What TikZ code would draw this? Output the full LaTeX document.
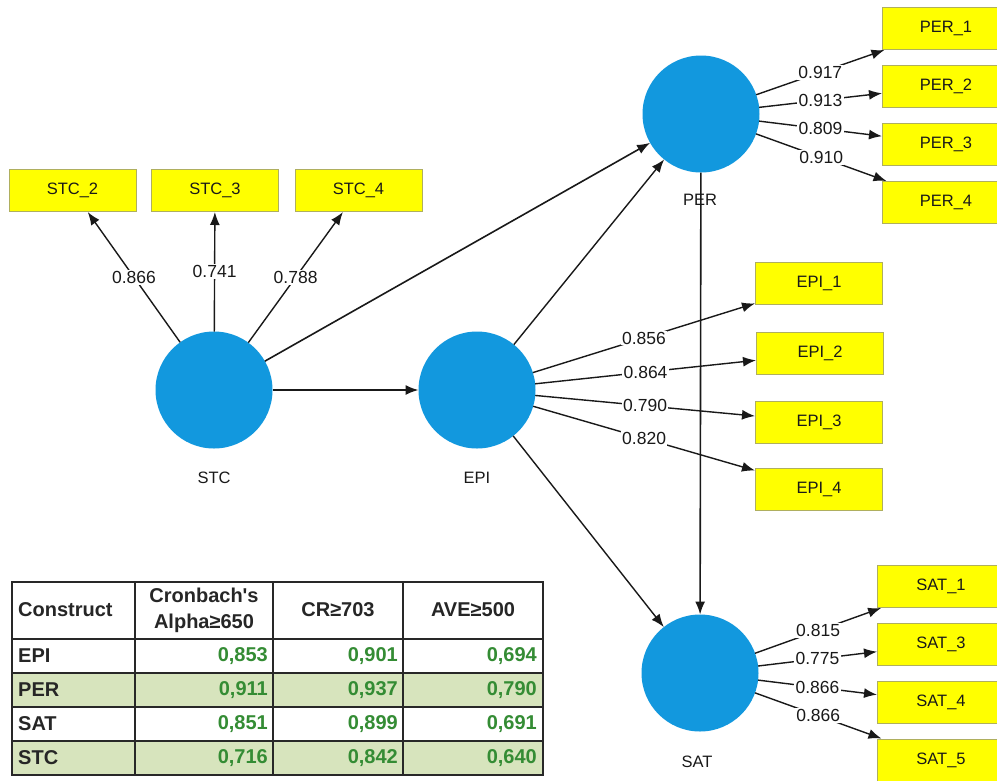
\documentclass[tikz,border=0pt]{standalone}
\usepackage{fontspec}
\setmainfont{Liberation Sans}
\usetikzlibrary{arrows.meta}
\definecolor{lvblue}{RGB}{18,152,222}
\definecolor{indyel}{RGB}{255,255,0}
\definecolor{indedge}{RGB}{175,175,95}
\definecolor{rowgreen}{RGB}{215,228,189}
\definecolor{numgreen}{RGB}{52,140,52}
\definecolor{txt}{RGB}{25,25,25}
\definecolor{tline}{RGB}{40,40,40}
\begin{document}
\begin{tikzpicture}[x=1pt,y=-1pt,
  lv/.style={circle,fill=lvblue,minimum size=117pt,inner sep=0pt,outer sep=0pt},
  ind/.style={rectangle,fill=indyel,draw=indedge,line width=1pt,minimum width=127pt,minimum height=42pt,inner sep=0pt,font=\fontsize{16.5}{18}\selectfont,text=txt},
  lvlab/.style={font=\fontsize{16.5}{18}\selectfont,text=txt},
  arr/.style={draw=black!90,line width=1.4pt,-{Latex[length=13pt,width=10pt]}},
  sarr/.style={arr,line width=1.6pt},
  lbl/.style={fill=white,inner sep=1.2pt,font=\fontsize{17.5}{19}\selectfont,text=txt},
  tgrid/.style={draw=tline,line width=1.5pt},
  thead/.style={font=\fontsize{20}{26}\selectfont\bfseries,text=black!85,inner sep=0pt},
  tnum/.style={font=\fontsize{20}{24}\selectfont\bfseries,text=numgreen,inner sep=0pt,anchor=east},
  tname/.style={font=\fontsize{20}{24}\selectfont\bfseries,text=black!85,inner sep=0pt,anchor=west}
]
\useasboundingbox (0,0) rectangle (997,780);
\fill[white] (0,0) rectangle (997,780);

% latent variables
\node[lv] (stc) at (214,390) {};
\node[lv] (epi) at (477,390) {};
\node[lv] (per) at (701,114) {};
\node[lv] (sat) at (700,673) {};

% indicators
\node[ind] (stc2) at (72.5,190.5) {STC\_2};
\node[ind] (stc3) at (215,190.5) {STC\_3};
\node[ind] (stc4) at (358.5,190.5) {STC\_4};
\node[ind] (per1) at (946,28.5) {PER\_1};
\node[ind] (per2) at (946,86) {PER\_2};
\node[ind] (per3) at (946,144) {PER\_3};
\node[ind] (per4) at (946,202.5) {PER\_4};
\node[ind] (epi1) at (819,283.5) {EPI\_1};
\node[ind] (epi2) at (820,353.5) {EPI\_2};
\node[ind] (epi3) at (819,422) {EPI\_3};
\node[ind] (epi4) at (819,489) {EPI\_4};
\node[ind] (sat1) at (941,586.5) {SAT\_1};
\node[ind] (sat3) at (941,644) {SAT\_3};
\node[ind] (sat4) at (941,702.5) {SAT\_4};
\node[ind] (sat5) at (941,760) {SAT\_5};

% structural paths
\draw[sarr] (stc) -- (epi);
\draw[sarr] (stc) -- (per);
\draw[arr] (epi) -- (per);
\draw[arr] (epi) -- (sat);
\draw[sarr] (per) -- (sat);

% loadings
\draw[arr] (stc) -- node[lbl]{0.866} (stc2);
\draw[arr] (stc) -- node[lbl]{0.741} (stc3);
\draw[arr] (stc) -- node[lbl]{0.788} (stc4);
\draw[arr] (per) -- node[lbl]{0.917} (per1);
\draw[arr] (per) -- node[lbl]{0.913} (per2);
\draw[arr] (per) -- node[lbl]{0.809} (per3);
\draw[arr] (per) -- node[lbl]{0.910} (per4);
\draw[arr] (epi) -- node[lbl]{0.856} (epi1);
\draw[arr] (epi) -- node[lbl]{0.864} (epi2);
\draw[arr] (epi) -- node[lbl]{0.790} (epi3);
\draw[arr] (epi) -- node[lbl]{0.820} (epi4);
\draw[arr] (sat) -- node[lbl]{0.815} (sat1);
\draw[arr] (sat) -- node[lbl]{0.775} (sat3);
\draw[arr] (sat) -- node[lbl]{0.866} (sat4);
\draw[arr] (sat) -- node[lbl]{0.866} (sat5);

% latent labels
\node[lvlab] (stcl) at (214,478) {STC};
\node[lvlab] (epil) at (477,478) {EPI};
\node[lvlab] (perl) at (700,200) {PER};
\node[lvlab] (satl) at (697,762) {SAT};

% table
\fill[rowgreen] (12,673) rectangle (543,707);
\fill[rowgreen] (12,741) rectangle (543,775);
\draw[tgrid] (12,582) rectangle (543,775);
\foreach \yy in {639,673,707,741} \draw[tgrid] (12,\yy) -- (543,\yy);
\foreach \xx in {135,273,403} \draw[tgrid] (\xx,582) -- (\xx,775);

\node[thead,anchor=west] (hc) at (18,610) {Construct};
\node[thead,align=center] (ha) at (204,610) {Cronbach\textquotesingle s\\Alpha≥650};
\node[thead] (hcr) at (338,610) {CR≥703};
\node[thead] (have) at (473,610) {AVE≥500};

\node[tname] (r1) at (18,656) {EPI};
\node[tname] (r2) at (18,690) {PER};
\node[tname] (r3) at (18,724) {SAT};
\node[tname] (r4) at (18,758) {STC};

\node[tnum] (a1) at (268,656) {0,853};
\node[tnum] (a2) at (268,690) {0,911};
\node[tnum] (a3) at (268,724) {0,851};
\node[tnum] (a4) at (268,758) {0,716};
\node[tnum] (c1) at (398,656) {0,901};
\node[tnum] (c2) at (398,690) {0,937};
\node[tnum] (c3) at (398,724) {0,899};
\node[tnum] (c4) at (398,758) {0,842};
\node[tnum] (v1) at (537,656) {0,694};
\node[tnum] (v2) at (537,690) {0,790};
\node[tnum] (v3) at (537,724) {0,691};
\node[tnum] (v4) at (537,758) {0,640};
\end{tikzpicture}
\end{document}
